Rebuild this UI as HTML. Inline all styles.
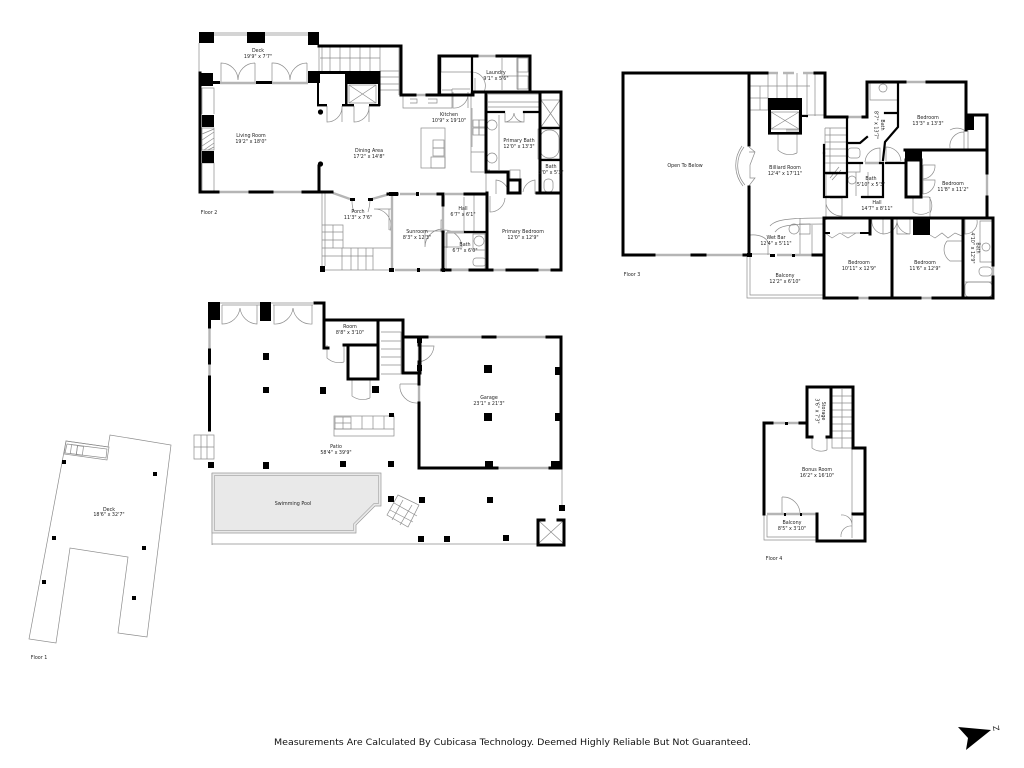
<!DOCTYPE html>
<html><head><meta charset="utf-8"><title>Floor plan</title>
<style>
html,body{margin:0;padding:0;background:#fff}
svg{display:block;filter:blur(.35px)}
.w path,.w rect{fill:none;stroke:#000;stroke-width:3;stroke-linecap:square}
.i path{fill:none;stroke:#000;stroke-width:2.2;stroke-linecap:square}
.g path{fill:none;stroke:#b5b5b5;stroke-width:2.4}
.t path,.t rect,.t ellipse,.t circle{fill:none;stroke:#8c8c8c;stroke-width:.7}
.k rect,.k path,.k circle{fill:#000;stroke:none}
text{font-family:"DejaVu Sans","Liberation Sans",sans-serif;font-size:4.8px;fill:#222;text-anchor:middle}
.c{font-size:9px;fill:#111}
</style></head><body>
<svg width="1024" height="768" viewBox="0 0 1024 768" xmlns="http://www.w3.org/2000/svg">
<rect width="1024" height="768" fill="#fff"/>

<!-- FLOOR 2 -->
<g class="t">
<path d="M199 43V73M213 33H308M213 35H308"/>
<path d="M221 82V63A17 17 0 0 1 238 80M255 63V82M255 63A17 17 0 0 0 238 80"/>
<path d="M272 82V63A17 17 0 0 1 290 80M307 63V82M307 63A17 17 0 0 0 290 80"/>
<path d="M319 45V71M322 46V71M320 58H380M330 46V71M340 46V71M350 46V71M360 46V71M370 46V71M380 46V71M380 71H399M380 46V95M399 47V95M380 77H399M380 84H399M380 90H399"/>
<rect x="349" y="85" width="27" height="18"/><path d="M349 85L376 103M376 85L349 103"/>
<path d="M327 106V122A15 15 0 0 0 342 108M342 106V122"/>
<path d="M354 106V122A15 15 0 0 0 369 108M369 106V122"/>
<path d="M322 193V270M325 193V266M322 225H343V248M322 232H343M322 240H343M333 225V248M322 248H391M322 256H373M373 248V270M322 270H391M342 248V270M351 248V270M358 248V270M366 248V270"/>
<path d="M352 201C352 207 353 209 354 212M370 200C370 206 369 208 368 212"/>
<path d="M391 209H374A16 16 0 0 1 390 230H391M389 209V230"/>
<!-- upper right -->
<path d="M403 96V108H452V89M410 99H417V103H410M428 99H437V103H428M440 72H472V93M441 72V58M472 58V72M452 89H470M442 90H452"/>
<path d="M453 92V108A14 14 0 0 0 468 94M468 92V108"/>
<path d="M470 72A14 14 0 0 1 484 92M475 78V92M502 58V90M518 58V90M517 58V76M518 76H502"/>
<rect x="517" y="58" width="11" height="14"/><rect x="517" y="76" width="11" height="13"/>
<rect x="421" y="128" width="24" height="40"/><rect x="433" y="140" width="11" height="8"/><rect x="433" y="148" width="11" height="8"/><rect x="431" y="157" width="14" height="11"/>
<path d="M471 92V168M472 108V147M484 172H471V152H484"/><rect x="473" y="120" width="6" height="7"/><rect x="479" y="120" width="6" height="7"/><rect x="473" y="128" width="6" height="7"/><rect x="479" y="128" width="6" height="7"/>
<path d="M488 94H539M488 102H539M488 107H539M499 115V170"/><circle cx="492" cy="125" r="5"/><circle cx="492" cy="158" r="5"/>
<path d="M505 113V122H524V113M514 113A10 10 0 0 1 505 122M514 113A10 10 0 0 0 524 122"/>
<rect x="541" y="100" width="19" height="27"/><path d="M541 100L560 127M560 100L541 127"/>
<rect x="540" y="130" width="19" height="28" rx="9"/><rect x="538" y="129" width="22" height="30"/>
<rect x="544" y="179" width="9" height="13" rx="4"/><rect x="510" y="170" width="10" height="9"/>
<path d="M496 194V180A14 14 0 0 1 508 190M535 194V180A14 14 0 0 0 523 192"/>
<path d="M490 196V212A15 15 0 0 0 505 198M490 170H486V194"/>
<path d="M474 194V231M464 197V231M444 220H441V232H445M443 230A18 18 0 0 1 462 247H443"/>
<path d="M425 247V231H443M425 247A18 18 0 0 1 442 229"/>
<rect x="446" y="233" width="39" height="36"/><circle cx="479" cy="241" r="5"/><rect x="473" y="258" width="13" height="8" rx="3"/><path d="M447 248V232M485 234H473V250H485"/>
</g>
<g class="g"><path d="M218 192H250M272 192H303M333 193L350 199M372 199L390 194M403 95H415M415 95H427M477 56H497M400 194H417M420 194H438M395 270H417M420 270H442M450 270H470M492 270H507M537 270H552M561 207V244M561 100V128M561 132V160M561 176V191M445 194H465M443 205V232M392 196V268M447 232H465"/><path d="M220 83H256M272 83H308"/></g>
<g class="t"><path d="M202 88H214V114M202 88V114M202 163H214V191M202 163V191"/><rect x="202" y="128" width="12" height="22"/><path d="M202 134L214 129M202 140L214 132M202 146L214 138M204 150L214 143M208 150L214 147"/></g>
<g class="w">
<path d="M200 73V192H218M250 192H272M303 192H332M319 166V192"/>
<path d="M319 46H401V95H415M427 95H439V56H477M497 56H530V91M473 92H561V270M439 95H473"/>
<path d="M397 194H388M443 194H438M465 194H487M486 93V172H508V180H520V193H508V180M487 193V270M537 193H561M540 93V193"/>
<path d="M442 270H450M470 270H492M507 270H537M552 270H561M443 194V205M443 232V270"/>
</g>
<g class="i"><path d="M465 232H486M540 128H561M540 160H561M488 112H504M524 112H538M440 95V56M472 56V93"/></g>
<g class="k">
<rect x="199" y="32" width="15" height="11"/><rect x="247" y="32" width="18" height="11"/><rect x="308" y="32" width="11" height="13"/>
<rect x="199" y="73" width="14" height="13"/><rect x="213" y="81" width="7" height="3"/><rect x="256" y="81" width="16" height="3"/>
<rect x="202" y="115" width="12" height="12"/><rect x="202" y="151" width="12" height="12"/>
<rect x="308" y="71" width="12" height="12"/><rect x="346" y="71" width="34" height="13"/><rect x="317" y="71" width="63" height="3"/><rect x="345" y="74" width="2.5" height="32"/><rect x="378" y="71" width="2.5" height="35"/><rect x="317" y="74" width="2" height="32"/><rect x="317" y="104" width="10" height="2.4"/><rect x="342" y="104" width="12" height="2.4"/><rect x="369" y="104" width="11" height="2.4"/>
<circle cx="320.500" cy="112" r="2.6"/><circle cx="320.500" cy="164" r="2.6"/>
<rect x="350" y="198" width="5" height="3"/><rect x="368" y="198" width="5" height="3"/><rect x="389" y="192" width="9" height="4"/>
<rect x="320" y="266" width="5" height="6"/><rect x="389" y="268" width="5" height="4"/>
<rect x="416" y="192" width="3" height="4"/><rect x="417" y="268" width="3" height="4"/><rect x="442" y="268" width="3" height="4"/>
</g>

<!-- FLOOR 3 -->
<g class="t">
<path d="M747 256V298H823M750 256V295H823M749 147L755 152L750 165V178L755 178L748 187M742 146A33 33 0 0 0 743 186M744 147A30 30 0 0 0 745 185M749 152H755"/>
<path d="M768 73V110M777 73V98M787 73V98M797 73V98M807 73V118M815 73V116M750 86H810M750 98H768M750 110H768M750 98V110M760 86V110M802 115H825M815 86V115"/>
<rect x="771" y="112" width="28" height="17"/><path d="M771 112L799 129M799 112L771 129M786 130H799M786 132H799"/>
<path d="M778 134V150A17 17 0 0 0 797 153M797 134V153"/>
<path d="M825 128V173M825 128H847M825 135H847M825 142H847M825 149H847M825 156H847M825 163H847M830 128V173"/>
<path d="M770 226C775 220 785 218 824 218M775 232C780 226 785 224 824 224M812 225V255M800 218V255M799 224H810V234H799"/><circle cx="794" cy="229" r="5"/>
<path d="M750 235C760 234 766 238 768 242V255M750 235V255M752 254H770"/>
<path d="M840 233L832 238L825 233M840 233L848 238L856 233M842 233H860"/>
<path d="M826 202V220M826 197V204M830 198H842V216A16 16 0 0 1 826 204M830 178L839 167M832 180L841 170M826 174H846V196H826Z"/>
<path d="M850 163H847V172H860V163M856 172V196M868 172V196"/><circle cx="852" cy="180" r="4"/><rect x="848" y="148" width="12" height="10" rx="3"/><path d="M848 143H861"/>
<path d="M870 82V100H898M873 82H895"/><circle cx="883" cy="88" r="4"/>
<path d="M865 162A15 15 0 0 1 880 148V162M901 161A15 15 0 0 0 886 147V161M886 162H901"/>
<path d="M950 130A14 14 0 0 1 964 130M964 130V150M950 148A14 14 0 0 1 964 132M968 130V150H986"/>
<path d="M923 165H935A13 13 0 0 1 923 179M923 180H935A13 13 0 0 1 923 194M923 165V194"/>
<path d="M913 197V212A15 15 0 0 0 929 212M913 197H929A15 15 0 0 1 930 213M930 197V218"/>
<path d="M883 219V234A14 14 0 0 0 897 222M872 219A13 13 0 0 0 883 234M897 219A14 14 0 0 0 910 234H897V219M910 219V234"/>
<path d="M930 235L935 238L942 233L948 238L955 233L962 236"/>
<path d="M947 241H962V261H950A14 14 0 0 1 947 241"/>
<path d="M965 219V234A12 12 0 0 0 977 220M980 221H992V262H980Z"/><circle cx="986" cy="247" r="4"/><rect x="979" y="267" width="13" height="9" rx="4"/><rect x="965" y="282" width="27" height="15" rx="4"/><path d="M965 282H992"/>
</g>
<g class="g"><path d="M767 73H778M783 73H794M803 73H815M654 255H692M705 255H744M777 255H792M795 255H813M905 82H927M847 117H863M987 173V197M857 298H870M920 298H933M993 265V277M862 197H880M865 163H883"/></g>
<g class="w">
<path d="M623 73H748M623 73V255H654M692 255H705M744 255H750M749 73V145M749 187V255"/>
<path d="M749 73H767M815 73H825V117H847M863 117H867V82H905M927 82H966V130"/>
<path d="M966 115H987V173M987 197V218H993V265M993 277V298H933M920 298H870M857 298H824V218H963M963 218H987M963 218V298M892 218V298"/>
<path d="M813 255H824V298"/><path d="M905 150H987M906 160H921V197H906Z"/>
<path d="M870 218V234"/>
</g>
<g class="i">
<path d="M824 153V197H847M862 197H883V163M847 117V197M847 163H862M824 173H847M880 163H883M867 137L860 143H847"/>
<path d="M898 82V114M898 112V127L885 142L883 160M885 113H898M886 163H905"/>
<path d="M825 173H837M824 145V153"/>
</g>
<g class="k">
<rect x="768" y="98" width="34" height="12"/><rect x="768" y="110" width="3" height="24"/><rect x="799" y="110" width="3" height="24"/><rect x="768" y="132" width="34" height="2.6"/><rect x="802" y="115" width="6" height="2"/>
<rect x="965" y="115" width="9" height="15"/><rect x="905" y="150" width="17" height="10"/><rect x="913" y="218" width="17" height="17"/>
<rect x="825" y="232" width="5" height="2"/><rect x="860" y="232" width="10" height="2"/>
<rect x="770" y="254" width="5" height="3"/><rect x="792" y="254" width="3" height="3"/><rect x="747" y="253" width="5" height="4"/>
</g>

<!-- FLOOR 1 (main level) -->
<g class="t">
<path d="M220 303H260M271 303H313M222 305H260M273 305H313"/>
<path d="M222 305V324A18 18 0 0 0 240 308M257 305V324A18 18 0 0 1 240 308"/>
<path d="M274 305V324A18 18 0 0 0 293 308M312 305V324A18 18 0 0 1 293 308"/>
<path d="M327 345V358A18 18 0 0 0 344 362M344 345V362"/>
<path d="M352 380V396A18 18 0 0 0 370 398M370 380V398"/>
<path d="M381 332H401V374H381M381 341H401M381 349H401M381 357H401M381 365H401"/>
<path d="M400 384A17 17 0 0 0 418 403M418 384H400"/>
<path d="M418 346H434A17 17 0 0 1 418 362"/>
<rect x="334" y="416" width="60" height="20"/><path d="M334 429H394M362 416V429M373 416V429M384 416V429"/><rect x="335" y="417" width="16" height="12"/><path d="M343 417V429M335 423H351"/>
<path d="M194 435H214V459H194ZM194 447H214M201 435V459M207 435V459"/>
<path d="M398 495L419 505L408 527L387 515ZM403 500L392 520M412 505L400 525M390 510L413 522M394 503L417 516"/>
<path d="M212 473V545M212 544H538M562 468V510"/>
<path d="M212 473H381V506H375L356 525V533H212Z" style="fill:#e9e9e9;stroke:#999"/>
<path d="M214.500 475.500H378.500V503.500H374L353.500 524V530.500H214.500Z" style="stroke:#aaa"/>
<path d="M539 521L563 543M563 521L539 543"/>
</g>
<g class="g"><path d="M209.500 327V350M209.500 363V377M427 337H483M495 337H547M497 468H550M419 345V362M419 384V403"/></g>
<g class="w">
<path d="M315 303H324V348H328M324 320H403V373H420M403 337H420V373M344 345H378M348 345V379H378V320"/>
<path d="M419 337V345M419 362V384M419 403V468H497M550 468H561V337H547M483 337H495M427 337H419"/>
<path d="M209.500 320V327M209.500 350V363M209.500 377V430"/>
<path d="M538 544V520H544M558 520H564V545H538"/>
</g>
<g class="k">
<rect x="208" y="302" width="12" height="18"/><rect x="260" y="302" width="11" height="19"/>
<rect x="263" y="353" width="6" height="7"/><rect x="263" y="387" width="6" height="6"/><rect x="320" y="387" width="6" height="7"/><rect x="372" y="386" width="7" height="7"/><rect x="389" y="413" width="5" height="4"/>
<rect x="208" y="462" width="6" height="6"/><rect x="263" y="462" width="6" height="7"/><rect x="340" y="461" width="6" height="6"/><rect x="388" y="461" width="6" height="6"/><rect x="388" y="496" width="6" height="6"/>
<rect x="484" y="365" width="8" height="8"/><rect x="484" y="413" width="8" height="8"/><rect x="555" y="367" width="6" height="8"/><rect x="555" y="413" width="6" height="8"/><rect x="485" y="461" width="8" height="7"/><rect x="551" y="461" width="10" height="8"/>
<rect x="419" y="497" width="6" height="6"/><rect x="487" y="497" width="6" height="6"/><rect x="559" y="505" width="6" height="6"/><rect x="418" y="536" width="6" height="6"/><rect x="444" y="536" width="6" height="6"/><rect x="503" y="535" width="6" height="6"/>
<rect x="417" y="337" width="5" height="6"/><rect x="417" y="365" width="5" height="6"/>
</g>

<!-- DECK -->
<g class="t">
<path d="M66 441L108 447L110 435L171 445L147 637L118 633L128 557L70 548L56 643L29 639Z"/>
<path d="M66 441L109 447L107 460L64 454ZM67 444L107 449L106 458L65 453Z"/>
<rect x="71" y="445" width="6" height="9" transform="rotate(8 74 449)"/><rect x="77" y="446" width="6" height="9" transform="rotate(8 80 450)"/>
</g>
<g class="k">
<rect x="62" y="460" width="4" height="4"/><rect x="153" y="472" width="4" height="4"/><rect x="52" y="536" width="4" height="4"/><rect x="142" y="546" width="4" height="4"/><rect x="42" y="580" width="4" height="4"/><rect x="132" y="596" width="4" height="4"/>
</g>

<!-- FLOOR 4 -->
<g class="t">
<path d="M832 389V448H852V389M832 396H852M832 403H852M832 410H852M832 417H852M832 424H852M832 431H852M832 438H852M852 448V514M842 389V448"/>
<path d="M812 438V448A15 15 0 0 0 827 450M827 438V450"/>
<path d="M782 497V514M782 497A17 17 0 0 1 800 514H797"/>
<path d="M764 515V540H817M767 515V537H817"/>
<path d="M841 515A10 10 0 0 1 852 524M852 516V538M841 537A10 10 0 0 1 852 526"/>
</g>
<g class="g"><path d="M772 423H785M788 423H800M767 514H784M786 514H800M802 514H816"/></g>
<g class="w">
<path d="M764 423V514M764 423H772M800 423H807V387H853V448H865V541H817V514M807 387V437M807 437H812M827 437H831V387M853 514H865"/>
</g>
<g class="k"><rect x="785" y="422" width="3" height="3"/><rect x="784" y="513" width="2" height="3"/><rect x="800" y="513" width="2" height="3"/></g>

<!-- North arrow -->
<path d="M958 727L991 730L966 750L968 738Z" fill="#000"/>
<text x="997" y="730" transform="rotate(-100 997 728)" style="font-size:8px;fill:#222">Z</text>

<!-- LABELS -->
<text x="258" y="52">Deck</text><text x="258" y="58">19'9" x 7'7"</text>
<text x="251" y="137">Living Room</text><text x="251" y="143">19'2" x 18'0"</text>
<text x="369" y="152">Dining Area</text><text x="369" y="158">17'2" x 14'8"</text>
<text x="449" y="116">Kitchen</text><text x="449" y="122">10'9" x 19'10"</text>
<text x="496" y="74">Laundry</text><text x="496" y="80">9'1" x 5'6"</text>
<text x="519" y="142">Primary Bath</text><text x="519" y="148">12'0" x 13'3"</text>
<text x="551" y="168">Bath</text><text x="551" y="174">3'0" x 5'3"</text>
<text x="463" y="210">Hall</text><text x="463" y="216">6'7" x 6'1"</text>
<text x="417" y="233">Sunroom</text><text x="417" y="239">8'3" x 12'3"</text>
<text x="523" y="233">Primary Bedroom</text><text x="523" y="239">12'0" x 12'9"</text>
<text x="465" y="246">Bath</text><text x="465" y="252">6'7" x 6'0"</text>
<text x="358" y="213">Porch</text><text x="358" y="219">11'3" x 7'6"</text>
<text x="209" y="214">Floor 2</text>
<text x="685" y="167">Open To Below</text>
<text x="785" y="169">Billiard Room</text><text x="785" y="175">12'4" x 17'11"</text>
<text x="776" y="239">Wet Bar</text><text x="776" y="245">12'4" x 5'11"</text>
<text x="785" y="277">Balcony</text><text x="785" y="283">12'2" x 6'10"</text>
<text x="632" y="276">Floor 3</text>
<text x="928" y="119">Bedroom</text><text x="928" y="125">13'3" x 13'3"</text>
<text x="953" y="185">Bedroom</text><text x="953" y="191">11'8" x 11'2"</text>
<text x="871" y="180">Bath</text><text x="871" y="186">5'10" x 5'3"</text>
<text x="877" y="204">Hall</text><text x="877" y="210">14'7" x 8'11"</text>
<text x="859" y="264">Bedroom</text><text x="859" y="270">10'11" x 12'9"</text>
<text x="925" y="264">Bedroom</text><text x="925" y="270">11'6" x 12'9"</text>
<text transform="translate(881 125) rotate(90)" x="0" y="0">Bath</text><text transform="translate(874.500 125) rotate(90)" x="0" y="0">8'7" x 13'7"</text>
<text transform="translate(976.500 248) rotate(90)" x="0" y="0">Bath</text><text transform="translate(971 248) rotate(90)" x="0" y="0">4'10" x 12'9"</text>
<text x="350" y="328">Room</text><text x="350" y="334">8'8" x 3'10"</text>
<text x="336" y="448">Patio</text><text x="336" y="454">58'4" x 39'9"</text>
<text x="293" y="505">Swimming Pool</text>
<text x="489" y="399">Garage</text><text x="489" y="405">23'1" x 21'3"</text>
<text x="109" y="511">Deck</text><text x="109" y="516">18'6" x 32'7"</text>
<text x="39" y="659">Floor 1</text>
<text x="817" y="471">Bonus Room</text><text x="817" y="477">16'2" x 16'10"</text>
<text x="792" y="524">Balcony</text><text x="792" y="530">8'5" x 3'10"</text>
<text x="774" y="560">Floor 4</text>
<text transform="translate(822 411) rotate(90)" x="0" y="0">Storage</text><text transform="translate(815.500 411) rotate(90)" x="0" y="0">3'6" x 7'3"</text>

<text class="c" x="512.500" y="745" textLength="477" lengthAdjust="spacingAndGlyphs">Measurements Are Calculated By Cubicasa Technology. Deemed Highly Reliable But Not Guaranteed.</text>
</svg>
</body></html>
